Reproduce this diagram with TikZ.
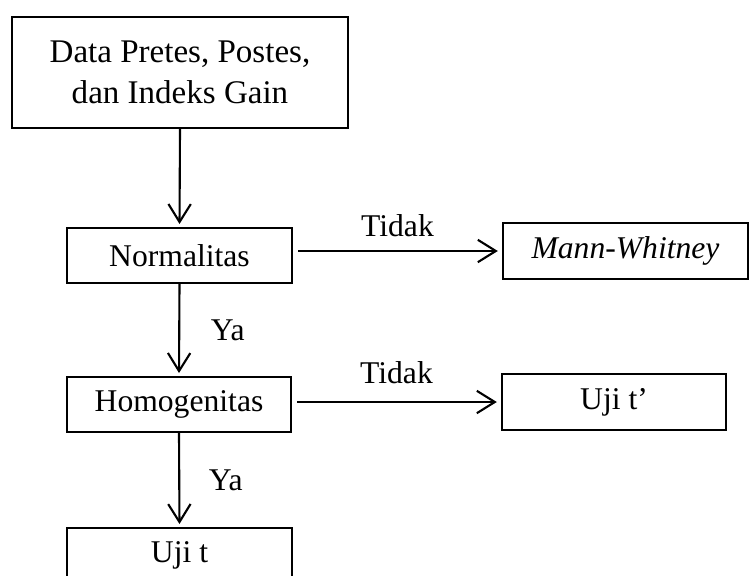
\documentclass[tikz,border=0pt]{standalone}
\usepackage{fontspec}
\setmainfont{Liberation Serif}
\usepackage{tikz}
\usetikzlibrary{positioning}
\usetikzlibrary{arrows.meta}
\tikzstyle{flowBox}   = [draw, line width=1.7pt, inner sep=0pt, align=center,
    font=\fontsize{22.5}{28}\selectfont]
\tikzstyle{flowArrow} = [line width=1.5pt, -{Straight Barb[length=0.45cm,width=0.56cm]}]
\tikzstyle{flowLabel} = [font=\fontsize{22.5}{28}\selectfont]

\begin{document}
\begin{tikzpicture}
                    \useasboundingbox (0,0) rectangle (18.725,-14.4);
                    \node at (4.5,-1.8125)   [                       flowBox,minimum width=8.4cm  ,minimum height=2.775cm,font=\fontsize{23.5}{29}\selectfont] (nData)  {Data Pretes, Postes,\\dan Indeks Gain};
                    \node at (nData)         [xshift=-0.0125cm,yshift=-4.575cm,flowBox,minimum width=5.625cm,minimum height=1.375cm] (nNorm)  {Normalitas};
                    \node at (nNorm)         [xshift= 11.15cm ,yshift=0.1125cm,flowBox,minimum width=6.125cm,minimum height=1.4cm  ] (nMW)    {\itshape Mann-Whitney};
                    \node at (nNorm)         [xshift=-0.0125cm,yshift=-3.725cm,flowBox,minimum width=5.6cm  ,minimum height=1.375cm] (nHomo)  {Homogenitas};
                    \node at (nHomo)         [xshift= 10.875cm,yshift=0.0625cm,flowBox,minimum width=5.6cm  ,minimum height=1.4cm  ] (nUjiTp) {Uji t’};
                    \node at (nHomo)         [xshift= 0.0125cm,yshift=-3.775cm,flowBox,minimum width=5.625cm,minimum height=1.375cm] (nUjiT)  {Uji t};
                    \draw[flowArrow,shorten >=0.07cm] (nData.south)  to (nNorm.north)  ;
                    \draw[flowArrow,shorten >=0.07cm] (nNorm.south)  to node[midway,right=0.65cm,flowLabel] (nYaA) {Ya} (nHomo.north)  ;
                    \draw[flowArrow,shorten >=0.07cm] (nHomo.south)  to node[midway,right=0.6cm ,flowLabel] (nYaB) {Ya} (nUjiT.north)  ;
                    \draw[flowArrow,shorten <=0.125cm,shorten >=0.1cm] (nNorm.east |- nMW.west)    to node[midway,above=0.2cm ,flowLabel] (nTidakA) {Tidak} (nMW.west)    ;
                    \draw[flowArrow,shorten <=0.125cm,shorten >=0.1cm] (nHomo.east |- nUjiTp.west) to node[midway,above=0.3cm ,flowLabel] (nTidakB) {Tidak} (nUjiTp.west) ;
                \end{tikzpicture}
\end{document}
